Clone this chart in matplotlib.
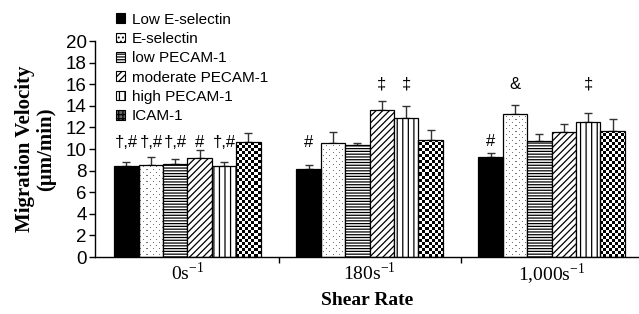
import numpy as np
import matplotlib
matplotlib.use("Agg")
import matplotlib.pyplot as plt
from matplotlib.patches import Patch

# ---- data ----
groups = ["0s$^{-1}$", "180s$^{-1}$", "1,000s$^{-1}$"]
series = ["Low E-selectin", "E-selectin", "low PECAM-1",
          "moderate PECAM-1", "high PECAM-1", "ICAM-1"]
# mean migration velocity (um/min) per series, per group
low_esel = [8.45, 8.17, 9.29]
esel = [8.55, 10.6, 13.24]
low_pecam = [8.6, 10.33, 10.74]
mod_pecam = [9.17, 13.6, 11.54]
high_pecam = [8.45, 12.9, 12.5]
icam = [10.67, 10.86, 11.7]
# error (upper SE)
low_esel_err = [0.35, 0.31, 0.34]
esel_err = [0.71, 1.0, 0.83]
low_pecam_err = [0.44, 0.27, 0.61]
mod_pecam_err = [0.7, 0.87, 0.76]
high_pecam_err = [0.35, 1.05, 0.8]
icam_err = [0.83, 0.94, 1.1]
# significance labels
annot_text = ["†,#", "†,#", "†,#", "#", "†,#", "#", "‡", "‡", "#", "&", "‡"]
annot_group = [0, 0, 0, 0, 0, 1, 1, 1, 2, 2, 2]
annot_series = [0, 1, 2, 3, 4, 0, 3, 4, 0, 1, 4]
annot_y = [10.6, 10.6, 10.6, 10.6, 10.6, 10.6, 16.0, 16.0, 10.7, 16.0, 16.0]

values = [low_esel, esel, low_pecam, mod_pecam, high_pecam, icam]
errors = [low_esel_err, esel_err, low_pecam_err, mod_pecam_err,
          high_pecam_err, icam_err]

plt.rcParams["hatch.linewidth"] = 0.9
plt.rcParams["mathtext.fontset"] = "custom"
plt.rcParams["mathtext.rm"] = "Liberation Serif"

fig = plt.figure(figsize=(6.39, 3.14), dpi=100)
ax = fig.add_axes([95 / 639, 1 - 257 / 314, (639 - 95) / 639, 216 / 314])

n = len(series)
width = 0.134
x = np.arange(len(groups))
offsets = (np.arange(n) - (n - 1) / 2) * width

styles = [
    dict(facecolor="black", hatch=None),
    dict(facecolor="none", hatch=None),
    dict(facecolor="white", hatch="------"),
    dict(facecolor="white", hatch="/////"),
    dict(facecolor="white", hatch="|||"),
    dict(facecolor="none", hatch=None),
]

xlim = (-0.508, 2.48)
ylim = (0, 20)
W, H = 544, 216

# checkerboard texture for ICAM-1
cell_px = 3
checker = (np.add.outer(np.arange(H // cell_px), np.arange(W // cell_px)) % 2).astype(float)

# dotted texture for E-selectin
rr, cc = np.mgrid[0:H, 0:W]
dots = np.ones((H, W))
mask = ((rr % 6 == 0) & (cc % 6 == 0)) | ((rr % 6 == 3) & (cc % 6 == 3))
dots[mask] = 0.45

bar_containers = []
for i in range(n):
    st = styles[i]
    bars = ax.bar(x + offsets[i], values[i], width,
                  color=st["facecolor"], edgecolor="black", linewidth=0.9,
                  hatch=st["hatch"], zorder=2)
    bar_containers.append(bars)
    ax.errorbar(x + offsets[i], values[i],
                yerr=[np.zeros(len(groups)), errors[i]],
                fmt="none", ecolor="#333333", elinewidth=1.0,
                capsize=2.6, capthick=1.0, zorder=1)

for idx, tex in [(n - 1, checker), (1, dots)]:
    for b in bar_containers[idx]:
        im = ax.imshow(tex, cmap="gray", vmin=0, vmax=1,
                       extent=(xlim[0], xlim[1], ylim[0], ylim[1]),
                       aspect="auto", interpolation="nearest", zorder=1.5)
        im.set_clip_path(b)

ax.set_xlim(*xlim)
ax.set_ylim(*ylim)

for t, g, s, yy in zip(annot_text, annot_group, annot_series, annot_y):
    ax.text(x[g] + offsets[s], yy, t, ha="center", va="center",
            fontsize=12, family=["Liberation Sans", "DejaVu Sans"])

# axes styling
for side in ["top", "right"]:
    ax.spines[side].set_visible(False)
ax.spines["left"].set_linewidth(1.0)
ax.spines["bottom"].set_linewidth(1.0)
ax.set_yticks(np.arange(0, 21, 2))
ax.tick_params(axis="y", direction="out", length=4, width=1,
               labelsize=13.5, pad=2)
for lab in ax.get_yticklabels():
    lab.set_family("Liberation Sans")
ax.set_xticks(x)
ax.set_xticklabels(groups, fontsize=14, family="Liberation Serif")
ax.tick_params(axis="x", which="major", length=0, pad=3)
ax.set_xticks([0.5, 1.5], minor=True)
ax.tick_params(axis="x", which="minor", direction="out", length=4, width=1)

ax.set_xlabel("Shear Rate", fontsize=14, fontweight="bold",
              family="Liberation Serif", labelpad=4)
ax.set_ylabel("Migration Velocity\n(μm/min)", fontsize=15, fontweight="bold",
              family="Liberation Serif", labelpad=7, linespacing=1.05)

# legend
handles = []
legend_faces = ["black", "white", "white", "white", "white", "#666666"]
legend_hatches = [None, "....", "------", "/////", "|||", "++++"]
for i in range(n):
    handles.append(Patch(facecolor=legend_faces[i], edgecolor="black",
                         hatch=legend_hatches[i], linewidth=0.8))
leg = fig.legend(handles, series, loc="upper left",
                 bbox_to_anchor=(116 / 639, 1 - 12.5 / 314),
                 bbox_transform=fig.transFigure, frameon=False,
                 prop={"family": "Liberation Sans", "size": 11},
                 handlelength=0.6, handleheight=0.6, handletextpad=0.45,
                 labelspacing=0.35, borderpad=0, borderaxespad=0)

fig.savefig("out.png", dpi=100)
